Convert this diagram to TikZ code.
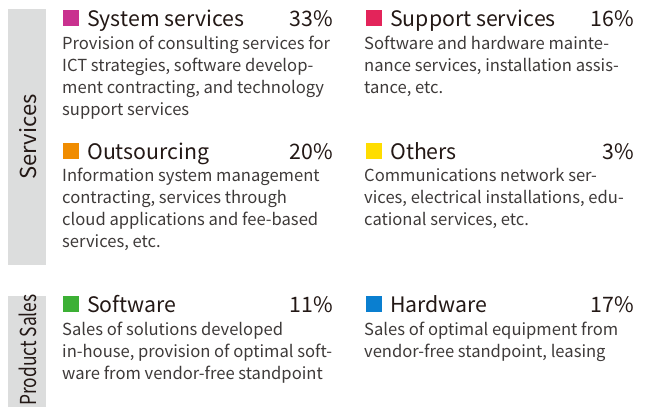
\documentclass[tikz,border=0pt]{standalone}
\usepackage{fontspec}
\usepackage{graphicx}
\setmainfont{Noto Sans CJK JP}
\definecolor{bargray}{HTML}{DCDDDD}
\definecolor{titletext}{HTML}{231815}
\definecolor{desctext}{HTML}{3E3A39}
\definecolor{cSys}{HTML}{C9318F}
\definecolor{cSup}{HTML}{E3245A}
\definecolor{cOut}{HTML}{F08C00}
\definecolor{cOth}{HTML}{FFDD00}
\definecolor{cSw}{HTML}{3CB035}
\definecolor{cHw}{HTML}{0A7FD0}
\tikzset{
  sidebar/.style={fill=bargray, draw=none},
  sidelabel/.style={rotate=90, font=\fontsize{22}{26}\selectfont, text=titletext, inner sep=0pt},
  titlelbl/.style={anchor=base west, font=\fontsize{21.3}{25}\selectfont, text=titletext, inner sep=0pt},
  pctlbl/.style={anchor=base east, font=\fontsize{21.3}{25}\selectfont, text=titletext, inner sep=0pt},
  desclbl/.style={anchor=base west, font=\fontsize{16.6}{22.2}\selectfont, text=desctext, inner sep=0pt},
}
\newcommand{\desc}[1]{\parbox[t]{290pt}{\raggedright #1}}
\begin{document}
\begin{tikzpicture}[x=1pt,y=-1pt]
\useasboundingbox (0,0) rectangle (648,407);
% side bars
\fill[sidebar] (8,9) rectangle (46,265);
\fill[sidebar] (8,296) rectangle (46,407);
\node[sidelabel] (svc) at (28,137) {Services};
\node[sidelabel] (prod) at (28,350) {\scalebox{0.79}[1]{Product Sales}};
% System services
\fill[cSys] (63,10) rectangle (79,26);
\node[titlelbl] (t1) at (87,26) {System services};
\node[pctlbl] (p1) at (333,26) {33\%};
\node[desclbl] (d1) at (62,49) {\desc{Provision of consulting services for\\ICT strategies, software develop-\\ment contracting, and technology\\support services}};
% Support services
\fill[cSup] (366,10) rectangle (382,26);
\node[titlelbl] (t2) at (390,26) {Support services};
\node[pctlbl] (p2) at (634,26) {16\%};
\node[desclbl] (d2) at (364,49) {\desc{Software and hardware mainte-\\nance services, installation assis-\\tance, etc.}};
% Outsourcing
\fill[cOut] (63,143) rectangle (79,159);
\node[titlelbl] (t3) at (87,159) {Outsourcing};
\node[pctlbl] (p3) at (333,159) {20\%};
\node[desclbl] (d3) at (62,181) {\desc{Information system management\\contracting, services through\\cloud applications and fee-based\\services, etc.}};
% Others
\fill[cOth] (366,143) rectangle (382,159);
\node[titlelbl] (t4) at (390,159) {Others};
\node[pctlbl] (p4) at (634,159) {3\%};
\node[desclbl] (d4) at (364,181) {\desc{Communications network ser-\\vices, electrical installations, edu-\\cational services, etc.}};
% Software
\fill[cSw] (63,296) rectangle (79,312);
\node[titlelbl] (t5) at (87,312) {Software};
\node[pctlbl] (p5) at (333,312) {11\%};
\node[desclbl] (d5) at (62,335) {\desc{Sales of solutions developed\\in-house, provision of optimal soft-\\ware from vendor-free standpoint}};
% Hardware
\fill[cHw] (366,296) rectangle (382,312);
\node[titlelbl] (t6) at (390,312) {Hardware};
\node[pctlbl] (p6) at (634,312) {17\%};
\node[desclbl] (d6) at (364,335) {\desc{Sales of optimal equipment from\\vendor-free standpoint, leasing}};
\end{tikzpicture}
\end{document}
